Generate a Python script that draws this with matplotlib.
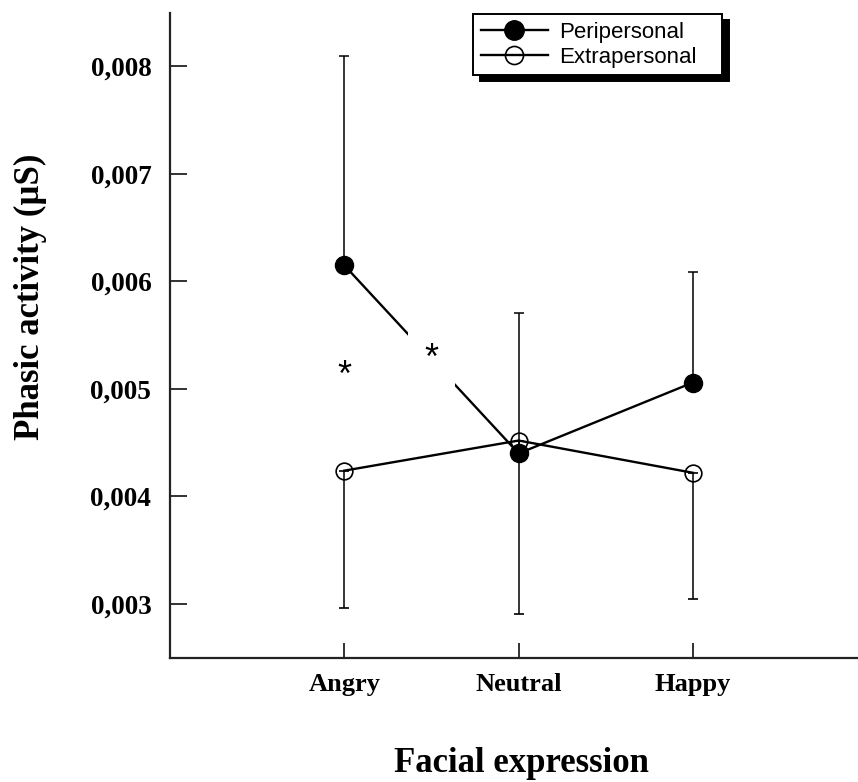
import matplotlib
matplotlib.use("Agg")
import matplotlib.pyplot as plt
from matplotlib.lines import Line2D
import numpy as np

# ---- data ----
categories = ["Angry", "Neutral", "Happy"]
peri_mean = [0.00615, 0.00440, 0.00506]
peri_upper = [0.00810, 0.00571, 0.00609]     # top of (upward) error bars
extra_mean = [0.00424, 0.00452, 0.00422]
extra_lower = [0.00296, 0.00291, 0.00305]    # bottom of (downward) error bars
ytick_vals = [0.003, 0.004, 0.005, 0.006, 0.007, 0.008]
ytick_labels = ["0,003", "0,004", "0,005", "0,006", "0,007", "0,008"]
star_x = [1.0, 1.5]
star_y = [0.00512, 0.00527]

x = np.arange(1, len(categories) + 1)

fig = plt.figure(figsize=(8.58, 7.82), dpi=100)
ax = fig.add_axes([170 / 858, 124.3 / 782, 697.3 / 858, 645 / 782])

serif = ["Liberation Serif", "DejaVu Serif"]
sans = ["Liberation Sans", "DejaVu Sans"]

peri_err = [np.zeros(3), np.array(peri_upper) - np.array(peri_mean)]
extra_err = [np.array(extra_mean) - np.array(extra_lower), np.zeros(3)]

ax.errorbar(x, peri_mean, yerr=peri_err, color="black", lw=1.7,
            elinewidth=1.1, capsize=3.8, capthick=1.1,
            marker="o", ms=13, mfc="black", mec="black", zorder=3)
ax.errorbar(x, extra_mean, yerr=extra_err, color="black", lw=1.7,
            elinewidth=1.1, capsize=3.8, capthick=1.1,
            marker="o", ms=12, mfc="none", mec="black", mew=1.2, zorder=3)

# significance stars
ax.text(star_x[0], star_y[0], "*", ha="center", va="center",
        fontsize=26, family=sans, zorder=4)
ax.text(star_x[1], star_y[1], "*", ha="center", va="center",
        fontsize=26, family=sans, zorder=4,
        bbox=dict(boxstyle="square,pad=0.45", fc="white", ec="none"))

ax.set_xlim(0, 4)
ax.set_ylim(0.0025, 0.0085)
ax.set_xticks(x)
ax.set_xticklabels(categories, fontsize=19, fontweight="bold", family=serif)
ax.set_yticks(ytick_vals)
ax.set_yticklabels(ytick_labels, fontsize=19.5, fontweight="bold", family=serif)
ax.tick_params(axis="y", direction="in", length=12, width=1.3, pad=13.5,
               color="#222222")
ax.tick_params(axis="x", direction="in", length=11, width=1.3, pad=11,
               color="#222222")

for s in ["top", "right"]:
    ax.spines[s].set_visible(False)
for s in ["left", "bottom"]:
    ax.spines[s].set_linewidth(1.6)
    ax.spines[s].set_color("#222222")

fig.text(30 / 858, 1 - 297 / 782, "Phasic activity (µS)", fontsize=25,
         fontweight="bold", family=serif, rotation=90,
         ha="center", va="center")
fig.text(521 / 858, 1 - 764 / 782, "Facial expression", fontsize=25,
         fontweight="bold", family=serif, ha="center", va="center")

handles = [
    Line2D([], [], color="black", lw=1.7, marker="o", ms=14,
           mfc="black", mec="black"),
    Line2D([], [], color="black", lw=1.7, marker="o", ms=13,
           mfc="none", mec="black", mew=1.2),
]
leg = ax.legend(handles, ["Peripersonal", "Extrapersonal"],
                loc="upper left", bbox_to_anchor=(0.435, 0.0, 0.357, 0.998),
                mode="expand",
                borderaxespad=0, fancybox=False, frameon=True,
                prop={"family": sans, "size": 16},
                handlelength=3.0, handletextpad=0.5, labelspacing=0.18,
                borderpad=0.34,
                shadow={"ox": 4.5, "oy": -4, "facecolor": "black",
                        "edgecolor": "black", "alpha": 1})
leg.get_frame().set_edgecolor("black")
leg.get_frame().set_linewidth(1.4)
leg.get_frame().set_facecolor("white")
leg.get_frame().set_alpha(1)

fig.savefig("out.png", dpi=100, facecolor="white")
